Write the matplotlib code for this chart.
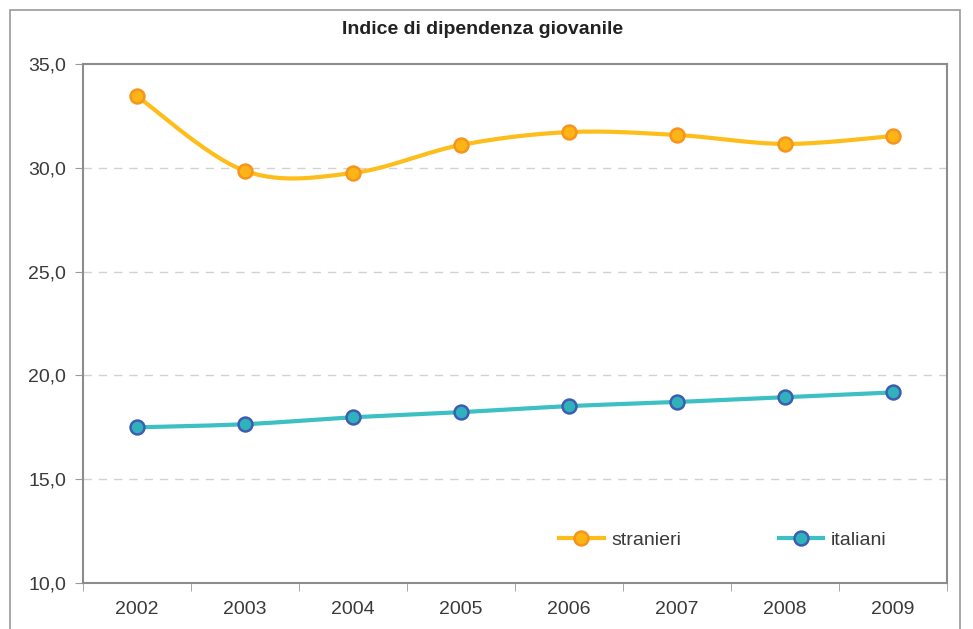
import numpy as np
import matplotlib
matplotlib.use("Agg")
import matplotlib.pyplot as plt
from matplotlib.lines import Line2D
from matplotlib.patches import Rectangle

years = ["2002", "2003", "2004", "2005", "2006", "2007", "2008", "2009"]
stranieri = [33.45, 29.85, 29.75, 31.1, 31.72, 31.58, 31.15, 31.53]
italiani = [17.5, 17.65, 17.98, 18.23, 18.52, 18.72, 18.95, 19.18]
yticks = [10, 15, 20, 25, 30, 35]
title = "Indice di dipendenza giovanile"

plt.rcParams['font.family'] = ['Liberation Sans', 'DejaVu Sans']

def smooth(x, y, n=30):
    # Catmull-Rom style smoothing of the drawn path (Excel smoothed line)
    x = np.asarray(x, float); y = np.asarray(y, float)
    px = np.concatenate([[x[0]], x, [x[-1]]])
    py = np.concatenate([[y[0]], y, [y[-1]]])
    xs, ys = [], []
    for i in range(1, len(px) - 2):
        p0, p1, p2, p3 = [np.array([px[j], py[j]]) for j in (i - 1, i, i + 1, i + 2)]
        c1 = p1 + (p2 - p0) / 6
        c2 = p2 - (p3 - p1) / 6
        t = np.linspace(0, 1, n)[:, None]
        b = (1 - t) ** 3 * p1 + 3 * (1 - t) ** 2 * t * c1 + 3 * (1 - t) * t ** 2 * c2 + t ** 3 * p2
        xs.extend(b[:, 0]); ys.extend(b[:, 1])
    return xs, ys

fig = plt.figure(figsize=(9.73, 6.29), dpi=100)
fig.patches.append(Rectangle((10 / 973, -0.05), 950 / 973, 1.05 - 10 / 629, transform=fig.transFigure,
                             fill=False, edgecolor='#9a9a9a', linewidth=1.2))
ax = fig.add_axes([83 / 973, 1 - 583 / 629, (947 - 83) / 973, (583 - 64) / 629])

x = np.arange(len(years))
orange_line = '#FDBD1A'
orange_face = '#FDB515'
orange_edge = '#F7941D'
teal_line = '#3CC0C4'
teal_face = '#30B2BD'
teal_edge = '#3D5DB0'

sx, sy = smooth(x, stranieri)
ax.plot(sx, sy, color=orange_line, lw=3, zorder=3, solid_capstyle='round')
ax.plot(x, stranieri, 'o', ms=10, mfc=orange_face, mec=orange_edge, mew=1.8, zorder=4)
ix, iy = smooth(x, italiani)
ax.plot(ix, iy, color=teal_line, lw=3, zorder=3, solid_capstyle='round')
ax.plot(x, italiani, 'o', ms=10, mfc=teal_face, mec=teal_edge, mew=1.8, zorder=4)

tc = '#3a3a3a'
ax.set_xlim(-0.5, len(years) - 0.5)
ax.set_ylim(10, 35)
ax.set_yticks(yticks)
ax.set_yticklabels([f"{v:.1f}".replace('.', ',') for v in yticks], fontsize=14, color=tc)
ax.set_xticks(x)
ax.set_xticklabels(years, fontsize=14, color=tc)
ax.tick_params(axis='x', length=0, pad=13)
ax.set_xticks(np.arange(-0.5, len(years), 1), minor=True)
ax.tick_params(axis='x', which='minor', length=6, color='#999999', direction='out')
ax.tick_params(axis='y', length=6, color='#999999', direction='out', pad=6)
for v in yticks[1:-1]:
    ax.axhline(v, color='#d2d2d2', lw=1, ls=(0, (6, 5)), zorder=1)
for s in ax.spines.values():
    s.set_color('#8c8c8c')
    s.set_linewidth(1.5)

fig.text(483 / 973, 1 - 30 / 629, title, ha='center', va='center', fontsize=14, fontweight='bold', color='#222222')

h1 = Line2D([], [], color=orange_line, lw=3, marker='o', ms=10, mfc=orange_face, mec=orange_edge, mew=1.8)
h2 = Line2D([], [], color=teal_line, lw=3, marker='o', ms=10, mfc=teal_face, mec=teal_edge, mew=1.8)
ax.legend([h1, h2], ["stranieri", "italiani"], loc='center', bbox_to_anchor=((723 - 83) / 864, (583 - 540) / 519),
          ncol=2, frameon=False, fontsize=14, handlelength=2.3, handletextpad=0.4, columnspacing=5.0,
          labelcolor=tc)

fig.savefig("out.png", dpi=100, facecolor='white')
